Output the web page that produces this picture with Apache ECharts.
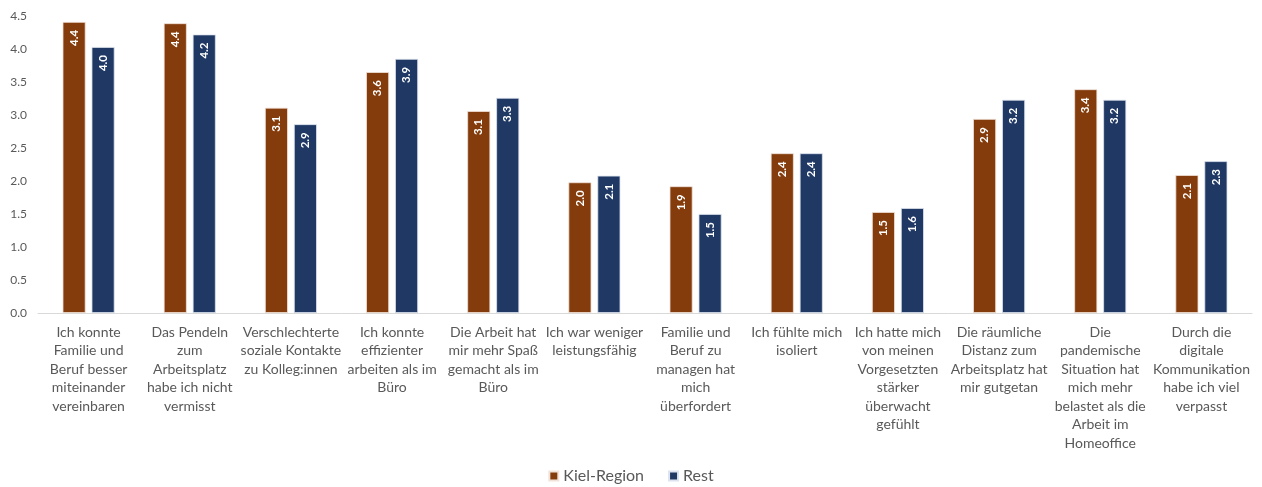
<!DOCTYPE html>
<html>
<head>
<meta charset="utf-8">
<script src="https://cdn.jsdelivr.net/npm/echarts@6/dist/echarts.min.js"></script>
<style>
  html, body { margin: 0; padding: 0; background: #ffffff; }
  #chart { width: 1262px; height: 487px; }
</style>
</head>
<body>
<div id="chart"></div>
<script>
// Survey statements (pre-wrapped into lines)
const categories = [
  'Ich konnte\nFamilie und\nBeruf besser\nmiteinander\nvereinbaren',
  'Das Pendeln\nzum\nArbeitsplatz\nhabe ich nicht\nvermisst',
  'Verschlechterte\nsoziale Kontakte\nzu Kolleg:innen',
  'Ich konnte\neffizienter\narbeiten als im\nBüro',
  'Die Arbeit hat\nmir mehr Spaß\ngemacht als im\nBüro',
  'Ich war weniger\nleistungsfähig',
  'Familie und\nBeruf zu\nmanagen hat\nmich\nüberfordert',
  'Ich fühlte mich\nisoliert',
  'Ich hatte mich\nvon meinen\nVorgesetzten\nstärker\nüberwacht\ngefühlt',
  'Die räumliche\nDistanz zum\nArbeitsplatz hat\nmir gutgetan',
  'Die\npandemische\nSituation hat\nmich mehr\nbelastet als die\nArbeit im\nHomeoffice',
  'Durch die\ndigitale\nKommunikation\nhabe ich viel\nverpasst'
];

const seriesNames = ['Kiel-Region', 'Rest'];

// Mean agreement scores
const kielRegion = [4.41, 4.39, 3.11, 3.65, 3.06, 1.98, 1.92, 2.42, 1.53, 2.94, 3.39, 2.09];
const rest       = [4.03, 4.22, 2.86, 3.85, 3.26, 2.08, 1.50, 2.42, 1.59, 3.23, 3.23, 2.30];

const yMin = 0, yMax = 4.5, yStep = 0.5;

const FONT = 'Lato, "Open Sans", sans-serif';
const TEXT_GREY = '#595959';

const barLabel = {
  show: true,
  position: 'insideTop',
  rotate: 90,
  align: 'right',
  verticalAlign: 'middle',
  distance: 8,
  color: '#ffffff',
  fontFamily: FONT,
  fontSize: 11.5,
  fontWeight: 'bold',
  formatter: p => p.value.toFixed(1)
};

const chart = echarts.init(document.getElementById('chart'), null, { renderer: 'canvas' });

chart.setOption({
  backgroundColor: '#ffffff',
  animation: false,
  textStyle: { fontFamily: FONT },
  grid: { left: 38, right: 10, top: 16, bottom: 174, containLabel: false },
  legend: {
    top: 463,
    left: 'center',
    icon: 'rect',
    itemWidth: 9,
    itemHeight: 9,
    itemGap: 24,
    textStyle: { color: TEXT_GREY, fontSize: 16, fontFamily: FONT },
    data: seriesNames
  },
  xAxis: {
    type: 'category',
    data: categories,
    axisLine: { show: true, lineStyle: { color: '#d9d9d9', width: 1 } },
    axisTick: { show: false },
    axisLabel: {
      interval: 0,
      margin: 10,
      color: TEXT_GREY,
      fontSize: 14,
      lineHeight: 18.5,
      fontFamily: FONT,
      align: 'center',
      verticalAlign: 'top'
    }
  },
  yAxis: {
    type: 'value',
    min: yMin,
    max: yMax,
    interval: yStep,
    axisLine: { show: false },
    axisTick: { show: false },
    splitLine: { show: false },
    axisLabel: {
      color: TEXT_GREY,
      fontSize: 12,
      margin: 11,
      fontFamily: FONT,
      formatter: v => v.toFixed(1)
    }
  },
  series: [
    {
      name: seriesNames[0],
      type: 'bar',
      data: kielRegion,
      barWidth: 23,
      barGap: '26%',
      itemStyle: { color: '#843c0c', borderColor: '#f2e3da', borderWidth: 0.8 },
      label: barLabel
    },
    {
      name: seriesNames[1],
      type: 'bar',
      data: rest,
      barWidth: 23,
      barGap: '26%',
      itemStyle: { color: '#1f3864', borderColor: '#dde3ef', borderWidth: 0.8 },
      label: barLabel
    }
  ]
});
</script>
</body>
</html>
